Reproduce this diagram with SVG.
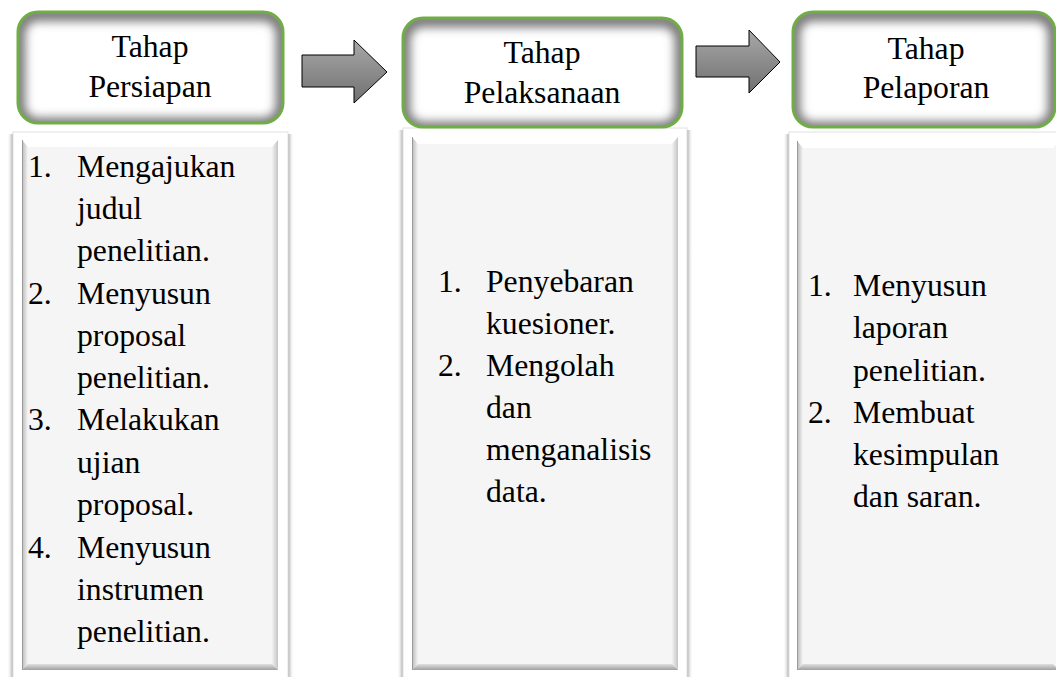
<svg xmlns="http://www.w3.org/2000/svg" width="1056" height="677" viewBox="0 0 1056 677">
<defs>
<style>
.hd{text-anchor:middle}
.hfill{fill:#fff}
.hstroke{fill:none;stroke:#70ad47;stroke-width:3}
.hshade{fill:none;stroke:#7c7c7c;stroke-width:15}
.outer{fill:#fff}
.inner{fill:#f5f5f5}
.arrow{fill:url(#ag);stroke:#000;stroke-width:1}
</style>
<linearGradient id="ag" x1="0" y1="0" x2="0" y2="1">
<stop offset="0" stop-color="#a8a8a8"/>
<stop offset="1" stop-color="#707070"/>
</linearGradient>
<linearGradient id="bl" x1="0" y1="0" x2="1" y2="0">
<stop offset="0" stop-color="#b8b8b8"/>
<stop offset="1" stop-color="#f5f5f5"/>
</linearGradient>
<linearGradient id="br" x1="0" y1="0" x2="1" y2="0">
<stop offset="0" stop-color="#f2f2f2"/>
<stop offset="1" stop-color="#c4c4c4"/>
</linearGradient>
<linearGradient id="bb" x1="0" y1="0" x2="0" y2="1">
<stop offset="0" stop-color="#e0e0e0"/>
<stop offset="1" stop-color="#a0a0a0"/>
</linearGradient>
<linearGradient id="sl" x1="0" y1="0" x2="1" y2="0">
<stop offset="0" stop-color="#ffffff" stop-opacity="0"/>
<stop offset="1" stop-color="#a8a8a8"/>
</linearGradient>
<linearGradient id="sr" x1="0" y1="0" x2="1" y2="0">
<stop offset="0" stop-color="#a8a8a8"/>
<stop offset="1" stop-color="#ffffff" stop-opacity="0"/>
</linearGradient>
<filter id="blur5" x="-20%" y="-30%" width="140%" height="160%">
<feGaussianBlur stdDeviation="5"/>
</filter>
<clipPath id="c1"><rect x="18" y="12" width="265" height="111" rx="20"/></clipPath>
<clipPath id="c2"><rect x="403" y="18" width="279" height="109" rx="20"/></clipPath>
<clipPath id="c3"><rect x="793" y="12" width="262" height="115" rx="20"/></clipPath>
</defs>
<rect width="1056" height="677" fill="#fff"/>

<g font-family="'Liberation Serif', Tinos, 'Times New Roman', Times, serif" font-size="31.7">

<g id="panel1">
<rect x="7" y="134" width="6" height="543" fill="url(#sl)"/>
<rect x="288" y="134" width="6" height="543" fill="url(#sr)"/>
<rect class="outer" x="13" y="132" width="275" height="560" stroke="#e2e2e2" stroke-width="1"/>
<rect class="inner" x="22" y="140" width="256" height="530"/>
<polygon points="22,140 278,140 272,147 28,147" fill="#ffffff"/>
<polygon points="22,140 28,147 28,664 22,670" fill="url(#bl)"/>
<polygon points="278,140 272,147 272,664 278,670" fill="url(#br)"/>
<polygon points="22,670 28,664 272,664 278,670" fill="url(#bb)"/>
<line x1="22.5" y1="140" x2="22.5" y2="670" stroke="#9a9a9a" stroke-width="1"/>
<text x="28" y="177">1.</text><text x="77" y="177">Mengajukan</text>
<text x="77" y="219">judul</text>
<text x="77" y="261">penelitian.</text>
<text x="28" y="304">2.</text><text x="77" y="304">Menyusun</text>
<text x="77" y="346">proposal</text>
<text x="77" y="388">penelitian.</text>
<text x="28" y="430">3.</text><text x="77" y="430">Melakukan</text>
<text x="77" y="473">ujian</text>
<text x="77" y="515">proposal.</text>
<text x="28" y="558">4.</text><text x="77" y="558">Menyusun</text>
<text x="77" y="600">instrumen</text>
<text x="77" y="642">penelitian.</text>
</g>

<g id="panel2">
<rect x="397" y="130" width="6" height="547" fill="url(#sl)"/>
<rect x="687" y="130" width="6" height="547" fill="url(#sr)"/>
<rect class="outer" x="403" y="128" width="284" height="564" stroke="#e2e2e2" stroke-width="1"/>
<rect class="inner" x="412" y="137" width="266" height="533"/>
<polygon points="412,137 678,137 672,144 418,144" fill="#ffffff"/>
<polygon points="412,137 418,144 418,664 412,670" fill="url(#bl)"/>
<polygon points="678,137 672,144 672,664 678,670" fill="url(#br)"/>
<polygon points="412,670 418,664 672,664 678,670" fill="url(#bb)"/>
<line x1="412.5" y1="137" x2="412.5" y2="670" stroke="#9a9a9a" stroke-width="1"/>
<text x="438" y="292">1.</text><text x="486" y="292">Penyebaran</text>
<text x="486" y="334">kuesioner.</text>
<text x="438" y="376">2.</text><text x="486" y="376">Mengolah</text>
<text x="486" y="418">dan</text>
<text x="486" y="460">menganalisis</text>
<text x="486" y="502">data.</text>
</g>

<g id="panel3">
<rect x="783" y="134" width="6" height="543" fill="url(#sl)"/>
<rect class="outer" x="789" y="132" width="280" height="560" stroke="#e2e2e2" stroke-width="1"/>
<rect class="inner" x="797" y="141" width="262" height="529"/>
<polygon points="797,141 1059,141 1053,148 803,148" fill="#ffffff"/>
<polygon points="797,141 803,148 803,664 797,670" fill="url(#bl)"/>
<polygon points="797,670 803,664 1053,664 1059,670" fill="url(#bb)"/>
<line x1="797.5" y1="141" x2="797.5" y2="670" stroke="#9a9a9a" stroke-width="1"/>
<text x="808" y="296">1.</text><text x="853" y="296">Menyusun</text>
<text x="853" y="338">laporan</text>
<text x="853" y="381">penelitian.</text>
<text x="808" y="423">2.</text><text x="853" y="423">Membuat</text>
<text x="853" y="465">kesimpulan</text>
<text x="853" y="507">dan saran.</text>
</g>

<g id="header1">
<rect class="hfill" x="18" y="12" width="265" height="111" rx="20"/>
<g clip-path="url(#c1)"><rect class="hshade" x="18" y="14" width="265" height="111" rx="20" filter="url(#blur5)"/></g>
<rect class="hstroke" x="18" y="12" width="265" height="111" rx="20"/>
<text class="hd" x="150" y="57">Tahap</text>
<text class="hd" x="150" y="97">Persiapan</text>
</g>

<g id="header2">
<rect class="hfill" x="403" y="18" width="279" height="109" rx="20"/>
<g clip-path="url(#c2)"><rect class="hshade" x="403" y="20" width="279" height="109" rx="20" filter="url(#blur5)"/></g>
<rect class="hstroke" x="403" y="18" width="279" height="109" rx="20"/>
<text class="hd" x="542" y="63">Tahap</text>
<text class="hd" x="542" y="103">Pelaksanaan</text>
</g>

<g id="header3">
<rect class="hfill" x="793" y="12" width="262" height="115" rx="20"/>
<g clip-path="url(#c3)"><rect class="hshade" x="793" y="14" width="262" height="115" rx="20" filter="url(#blur5)"/></g>
<rect class="hstroke" x="793" y="12" width="262" height="115" rx="20"/>
<text class="hd" x="926" y="59">Tahap</text>
<text class="hd" x="926" y="98">Pelaporan</text>
</g>

</g>

<g id="connectors">
<polygon class="arrow" points="302,55 354,55 354,40 387,72 354,103 354,87 302,87"/>
<polygon class="arrow" points="696,46 749,46 749,30 780,62 749,93 749,77 696,77"/>
</g>
</svg>
